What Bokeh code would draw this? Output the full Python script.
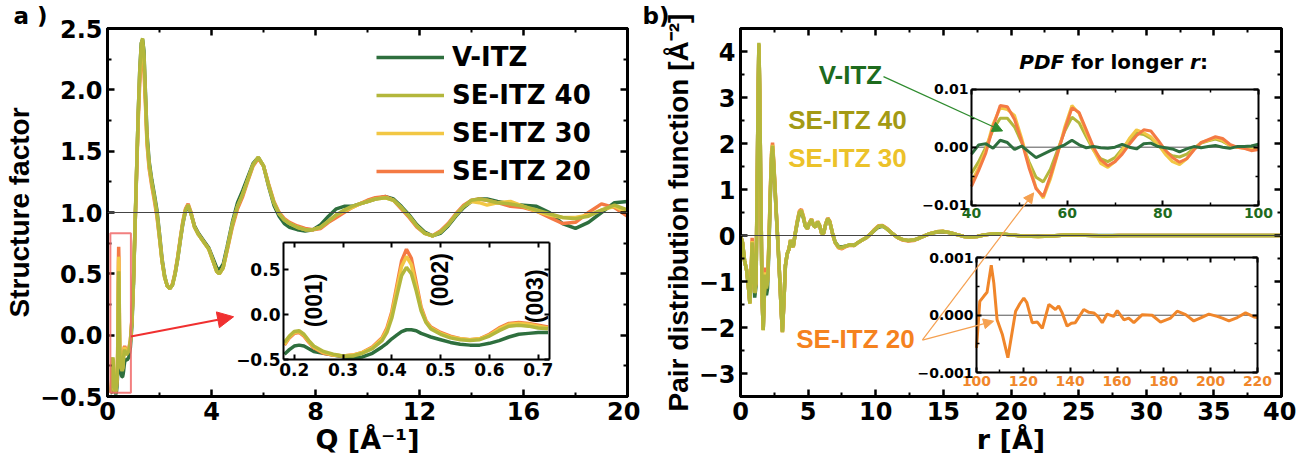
from bokeh.plotting import figure
from bokeh.models import (Range1d, LinearAxis, FixedTicker, Span, Label, Arrow, Title,
                          NormalHead, BoxAnnotation, Legend, LegendItem)
from bokeh.layouts import row
from bokeh.embed import file_html
from bokeh.resources import INLINE

# ====================== DATA ======================
series_names = ["V-ITZ", "SE-ITZ 40", "SE-ITZ 30", "SE-ITZ 20"]
colors = {"V-ITZ": "#2e6f3e", "SE-ITZ 40": "#b3b73c", "SE-ITZ 30": "#f2c744", "SE-ITZ 20": "#f47a44"}

# --- Structure factor S(Q), panel a ---
q_edge = [0.12, 0.15]
s_edge_v = [-0.47, -0.47]
s_edge_40 = [-0.46, -0.40]
s_edge_30 = [-0.46, -0.41]
s_edge_20 = [-0.47, -0.42]

q_low = [0.18, 0.19, 0.20, 0.21, 0.22, 0.23, 0.24, 0.26, 0.28, 0.30, 0.32, 0.34, 0.36, 0.38,
         0.39, 0.40, 0.41, 0.42, 0.43, 0.44, 0.45, 0.46, 0.47, 0.48, 0.50, 0.52, 0.54, 0.56,
         0.58, 0.60, 0.62, 0.64, 0.66, 0.68, 0.70, 0.72]
s_low_v = [-0.44, -0.39, -0.35, -0.34, -0.35, -0.38, -0.41, -0.43, -0.45, -0.47, -0.48, -0.47,
           -0.43, -0.36, -0.32, -0.27, -0.23, -0.19, -0.17, -0.17, -0.18, -0.21, -0.23, -0.25,
           -0.28, -0.31, -0.33, -0.34, -0.34, -0.32, -0.29, -0.25, -0.22, -0.21, -0.20, -0.20]
s_low_40 = [-0.31, -0.24, -0.19, -0.18, -0.22, -0.29, -0.35, -0.41, -0.44, -0.46, -0.46, -0.43,
            -0.38, -0.29, -0.20, -0.04, 0.20, 0.43, 0.52, 0.45, 0.26, 0.04, -0.09, -0.16,
            -0.22, -0.26, -0.28, -0.29, -0.28, -0.24, -0.18, -0.13, -0.12, -0.13, -0.15, -0.16]
s_low_30 = [-0.33, -0.25, -0.20, -0.19, -0.23, -0.30, -0.36, -0.42, -0.45, -0.46, -0.45, -0.42,
            -0.37, -0.27, -0.17, 0.00, 0.27, 0.53, 0.64, 0.55, 0.31, 0.06, -0.08, -0.15,
            -0.21, -0.25, -0.27, -0.28, -0.27, -0.23, -0.16, -0.11, -0.10, -0.11, -0.13, -0.15]
s_low_20 = [-0.34, -0.26, -0.21, -0.20, -0.24, -0.31, -0.37, -0.43, -0.45, -0.46, -0.45, -0.42,
            -0.36, -0.26, -0.15, 0.03, 0.31, 0.59, 0.72, 0.62, 0.35, 0.08, -0.07, -0.14,
            -0.20, -0.24, -0.27, -0.28, -0.27, -0.22, -0.15, -0.10, -0.09, -0.10, -0.12, -0.14]

q_high = [0.76, 0.82, 0.88, 0.94, 1.00, 1.06, 1.12, 1.18, 1.24, 1.30, 1.35, 1.40, 1.46, 1.52,
          1.60, 1.70, 1.80, 1.90, 2.0, 2.1, 2.2, 2.3, 2.4, 2.5, 2.6, 2.7, 2.8, 2.9, 3.0, 3.1,
          3.2, 3.35, 3.5, 3.7, 3.9, 4.05, 4.2, 4.3, 4.45, 4.6, 4.8, 5.0, 5.2, 5.4, 5.6, 5.8,
          6.0, 6.2, 6.4, 6.6, 6.8, 7.0, 7.3, 7.6, 7.9, 8.2, 8.5, 8.8, 9.1, 9.4, 9.7, 10.0,
          10.3, 10.7, 11.0, 11.3, 11.6, 11.9, 12.2, 12.5, 12.8, 13.1, 13.4, 13.7, 14.0, 14.3,
          14.6, 15.0, 15.5, 16.0, 16.5, 17.0, 17.5, 18.0, 18.5, 19.0, 19.5, 20.0]
s_high_40 = [-0.15, -0.13, -0.05, 0.12, 0.45, 0.90, 1.35, 1.80, 2.15, 2.38, 2.42, 2.30, 1.95, 1.60,
             1.40, 1.25, 1.13, 1.00, 0.80, 0.60, 0.47, 0.40, 0.38, 0.41, 0.50, 0.63, 0.78, 0.92,
             1.02, 1.06, 1.00, 0.88, 0.82, 0.76, 0.70, 0.61, 0.52, 0.50, 0.55, 0.70, 0.90, 1.05,
             1.15, 1.27, 1.39, 1.45, 1.38, 1.22, 1.08, 0.99, 0.94, 0.91, 0.88, 0.86, 0.86, 0.88,
             0.93, 0.98, 1.02, 1.05, 1.07, 1.09, 1.11, 1.12, 1.10, 1.04, 0.97, 0.89, 0.83, 0.81,
             0.84, 0.90, 0.98, 1.05, 1.10, 1.11, 1.10, 1.08, 1.07, 1.05, 1.02, 0.99, 0.96, 0.95,
             0.97, 1.02, 1.06, 1.02]
s_high_v = [-0.20, -0.18, -0.10, 0.08, 0.42, 0.88, 1.34, 1.80, 2.16, 2.38, 2.41, 2.32, 1.98, 1.64,
            1.42, 1.27, 1.15, 1.02, 0.83, 0.62, 0.48, 0.40, 0.38, 0.41, 0.50, 0.62, 0.77, 0.91,
            1.01, 1.05, 1.00, 0.89, 0.83, 0.77, 0.71, 0.63, 0.55, 0.53, 0.58, 0.72, 0.92, 1.08,
            1.18, 1.29, 1.40, 1.45, 1.38, 1.21, 1.06, 0.97, 0.91, 0.88, 0.86, 0.85, 0.86, 0.90,
            0.97, 1.03, 1.05, 1.05, 1.07, 1.09, 1.11, 1.13, 1.11, 1.05, 0.98, 0.90, 0.84, 0.81,
            0.83, 0.89, 0.97, 1.04, 1.09, 1.11, 1.11, 1.09, 1.07, 1.06, 1.05, 1.00, 0.91, 0.87,
            0.92, 1.00, 1.08, 1.09]
s_high_30 = [-0.14, -0.12, -0.05, 0.12, 0.45, 0.90, 1.35, 1.78, 2.12, 2.33, 2.36, 2.25, 1.92, 1.58,
             1.38, 1.24, 1.12, 0.99, 0.80, 0.60, 0.47, 0.40, 0.38, 0.41, 0.50, 0.63, 0.78, 0.92,
             1.02, 1.06, 1.00, 0.88, 0.82, 0.76, 0.70, 0.61, 0.52, 0.50, 0.55, 0.70, 0.90, 1.05,
             1.15, 1.27, 1.39, 1.45, 1.38, 1.22, 1.08, 0.99, 0.94, 0.91, 0.88, 0.86, 0.86, 0.88,
             0.93, 0.98, 1.01, 1.04, 1.07, 1.09, 1.11, 1.12, 1.10, 1.04, 0.97, 0.89, 0.83, 0.81,
             0.84, 0.90, 0.98, 1.05, 1.09, 1.08, 1.06, 1.08, 1.09, 1.05, 1.01, 0.98, 0.96, 0.96,
             0.98, 1.02, 1.05, 1.00]
s_high_20 = [-0.13, -0.11, -0.04, 0.13, 0.45, 0.88, 1.32, 1.74, 2.06, 2.26, 2.28, 2.18, 1.88, 1.56,
             1.36, 1.22, 1.10, 0.97, 0.79, 0.60, 0.47, 0.40, 0.38, 0.42, 0.51, 0.64, 0.79, 0.93,
             1.03, 1.07, 1.01, 0.88, 0.82, 0.76, 0.70, 0.61, 0.52, 0.50, 0.55, 0.69, 0.88, 1.03,
             1.13, 1.26, 1.38, 1.44, 1.38, 1.23, 1.09, 1.00, 0.95, 0.92, 0.89, 0.87, 0.86, 0.87,
             0.92, 0.96, 1.00, 1.04, 1.07, 1.10, 1.12, 1.13, 1.10, 1.03, 0.96, 0.88, 0.83, 0.81,
             0.85, 0.91, 0.99, 1.06, 1.10, 1.11, 1.10, 1.08, 1.05, 1.04, 1.01, 0.96, 0.91, 0.92,
             1.00, 1.07, 1.04, 0.97]

# --- Pair distribution function G(r), panel b ---
r_main = [0.0, 0.15, 0.3, 0.45, 0.58, 0.69, 0.78, 0.86, 0.95, 1.05, 1.15, 1.25, 1.31, 1.36, 1.42,
          1.5, 1.6, 1.68, 1.76, 1.84, 1.92, 2.0, 2.1, 2.2, 2.3, 2.37, 2.45, 2.55, 2.68, 2.8,
          2.92, 3.02, 3.1, 3.2, 3.32, 3.45, 3.58, 3.7, 3.8, 3.9, 4.05, 4.2, 4.35, 4.5, 4.65,
          4.8, 4.95, 5.1, 5.25, 5.4, 5.55, 5.7, 5.85, 6.0, 6.15, 6.3, 6.45, 6.6, 6.8, 7.0,
          7.25, 7.5, 7.8, 8.1, 8.4, 8.7, 9.0, 9.3, 9.6, 9.9, 10.2, 10.5, 10.8, 11.2, 11.6,
          12.0, 12.4, 12.8, 13.2, 13.6, 14.0, 14.5, 15.0, 15.5, 16.0, 16.5, 17.0, 17.5, 18.0,
          18.5, 19.0, 19.5, 20.0, 21.0, 22.0, 23.0, 24.0, 25.0, 26.0, 27.0, 28.0, 30.0, 32.0,
          34.0, 36.0, 38.0, 40.0]
g_40 = [0.0, -0.15, -0.55, -0.75, -1.10, -1.48, -0.90, -0.15, -0.60, -1.25,
        -1.00, 1.60, 3.30, 4.19, 3.20, 1.00, -1.40, -2.06, -1.30, -0.85,
        -1.15, -1.00, -0.20, 0.90, 1.75, 1.95, 1.60, 1.05, 0.30, -0.35,
        -1.05, -1.70, -2.10, -1.50, -0.65, -0.40, -0.30, -0.10, -0.20, -0.25,
        0.05, 0.30, 0.50, 0.54, 0.40, 0.20, 0.15, 0.28, 0.35, 0.22,
        0.18, 0.30, 0.22, 0.05, 0.05, 0.25, 0.37, 0.30, 0.05, -0.15,
        -0.25, -0.26, -0.23, -0.20, -0.22, -0.15, -0.10, -0.05, 0.03, 0.12,
        0.20, 0.21, 0.15, 0.05, -0.04, -0.09, -0.11, -0.10, -0.06, -0.01,
        0.04, 0.08, 0.09, 0.06, 0.02, -0.02, -0.03, -0.02, 0.01, 0.03,
        0.04, 0.03, 0.01, -0.01, -0.02, -0.01, 0.01, 0.01, 0.0, -0.01,
        0.0, 0.0, 0.0, 0.0, 0.0, 0.0, 0.0]
g_v = [0.0, -0.15, -0.55, -0.75, -1.10, -1.46, -0.92, -0.20, -0.65, -1.35,
       -1.10, 1.55, 3.25, 4.15, 3.15, 0.95, -1.40, -2.05, -1.35, -1.10,
       -1.30, -1.15, -0.30, 0.80, 1.68, 1.88, 1.55, 1.00, 0.28, -0.36,
       -1.05, -1.70, -2.08, -1.50, -0.66, -0.40, -0.30, -0.12, -0.20, -0.24,
       0.04, 0.28, 0.47, 0.50, 0.38, 0.20, 0.15, 0.27, 0.34, 0.22,
       0.18, 0.29, 0.21, 0.05, 0.05, 0.24, 0.36, 0.29, 0.05, -0.14,
       -0.24, -0.25, -0.23, -0.20, -0.21, -0.15, -0.10, -0.05, 0.03, 0.11,
       0.18, 0.20, 0.15, 0.05, -0.04, -0.09, -0.11, -0.10, -0.06, -0.01,
       0.04, 0.07, 0.08, 0.06, 0.02, -0.02, -0.03, -0.02, 0.01, 0.03,
       0.03, 0.03, 0.01, -0.01, -0.01, -0.01, 0.01, 0.01, 0.0, 0.0,
       0.0, 0.0, 0.0, 0.0, 0.0, 0.0, 0.0]
g_30 = [0.0, -0.15, -0.55, -0.75, -1.10, -1.48, -0.90, -0.12, -0.60, -1.25,
        -1.00, 1.60, 3.28, 4.17, 3.20, 1.00, -1.40, -2.06, -1.28, -0.80,
        -1.10, -0.98, -0.18, 0.92, 1.78, 1.97, 1.62, 1.06, 0.30, -0.35,
        -1.05, -1.70, -2.10, -1.50, -0.65, -0.40, -0.30, -0.10, -0.20, -0.25,
        0.05, 0.30, 0.51, 0.55, 0.40, 0.20, 0.15, 0.28, 0.35, 0.22,
        0.18, 0.30, 0.22, 0.05, 0.05, 0.25, 0.37, 0.30, 0.05, -0.15,
        -0.26, -0.27, -0.23, -0.20, -0.22, -0.15, -0.10, -0.05, 0.03, 0.12,
        0.20, 0.21, 0.15, 0.05, -0.04, -0.09, -0.11, -0.10, -0.06, -0.01,
        0.04, 0.08, 0.09, 0.06, 0.02, -0.02, -0.03, -0.02, 0.01, 0.03,
        0.04, 0.03, 0.01, -0.01, -0.02, -0.01, 0.01, 0.01, 0.0, -0.01,
        0.0, 0.0, 0.0, 0.0, 0.0, 0.0, 0.0]
g_20 = [0.0, -0.15, -0.55, -0.75, -1.10, -1.47, -0.85, -0.05, -0.55, -1.22,
        -1.00, 1.55, 3.20, 4.10, 3.15, 1.00, -1.38, -2.04, -1.20, -0.70,
        -1.00, -0.95, -0.15, 0.95, 1.82, 2.02, 1.65, 1.08, 0.32, -0.34,
        -1.05, -1.70, -2.10, -1.52, -0.66, -0.40, -0.30, -0.10, -0.20, -0.25,
        0.06, 0.32, 0.53, 0.57, 0.42, 0.21, 0.15, 0.28, 0.36, 0.22,
        0.18, 0.31, 0.22, 0.04, 0.05, 0.26, 0.38, 0.31, 0.04, -0.16,
        -0.27, -0.29, -0.24, -0.21, -0.22, -0.15, -0.10, -0.05, 0.03, 0.13,
        0.21, 0.22, 0.16, 0.05, -0.04, -0.10, -0.12, -0.11, -0.06, -0.01,
        0.04, 0.08, 0.09, 0.06, 0.02, -0.02, -0.03, -0.02, 0.01, 0.03,
        0.04, 0.03, 0.01, -0.01, -0.02, -0.01, 0.01, 0.01, 0.0, -0.01,
        0.0, 0.0, 0.0, 0.0, 0.0, 0.0, 0.0]

# --- PDF for longer r: 40-100 A (all series) ---
r_b1 = [40.0, 41.5, 43.0, 44.5, 46.0, 47.5, 49.0, 50.5, 52.0, 53.5, 55.0, 56.5, 58.0, 59.5,
        61.0, 62.5, 64.0, 65.5, 67.0, 68.5, 70.0, 71.5, 73.0, 74.5, 76.0, 77.5, 79.0, 80.5,
        82.0, 83.5, 85.0, 86.5, 88.0, 89.5, 91.0, 92.5, 94.0, 95.5, 97.0, 98.5, 100.0]
gl_20 = [-0.0068, -0.0040, -0.0010, 0.0035, 0.0072, 0.0070, 0.0048, 0.0010, -0.0035, -0.0072,
         -0.0085, -0.0050, -0.0010, 0.0030, 0.0068, 0.0060, 0.0030, 0.0000, -0.0022, -0.0032,
         -0.0025, -0.0012, 0.0005, 0.0020, 0.0030, 0.0028, 0.0012, -0.0005, -0.0018, -0.0026,
         -0.0020, -0.0005, 0.0008, 0.0013, 0.0018, 0.0015, 0.0005, 0.0000, -0.0002, -0.0006,
         -0.0004]
gl_30 = [-0.0060, -0.0035, -0.0005, 0.0040, 0.0068, 0.0065, 0.0055, 0.0015, -0.0030, -0.0070,
         -0.0088, -0.0055, -0.0012, 0.0035, 0.0072, 0.0058, 0.0025, -0.0005, -0.0028, -0.0035,
         -0.0025, -0.0005, 0.0015, 0.0030, 0.0025, 0.0018, 0.0005, -0.0012, -0.0025, -0.0030,
         -0.0020, -0.0003, 0.0008, 0.0012, 0.0016, 0.0012, 0.0003, 0.0000, -0.0002, -0.0004,
         -0.0003]
gl_40 = [-0.0045, -0.0025, 0.0000, 0.0030, 0.0050, 0.0050, 0.0035, 0.0008, -0.0025, -0.0052,
         -0.0060, -0.0038, -0.0005, 0.0028, 0.0052, 0.0042, 0.0018, -0.0005, -0.0020, -0.0025,
         -0.0018, -0.0003, 0.0012, 0.0024, 0.0022, 0.0015, 0.0004, -0.0008, -0.0015, -0.0017,
         -0.0012, -0.0002, 0.0007, 0.0011, 0.0014, 0.0010, 0.0003, 0.0000, -0.0001, -0.0003,
         -0.0002]
gl_v = [-0.0012, 0.0004, 0.0006, -0.0002, 0.0012, 0.0008, -0.0004, 0.0002, -0.0008, -0.0018,
        -0.0012, -0.0006, -0.0001, 0.0004, 0.0012, 0.0004, -0.0001, 0.0001, -0.0001, -0.0002,
        0.0000, 0.0005, 0.0000, -0.0003, 0.0006, 0.0007, 0.0001, -0.0001, -0.0003, -0.0008,
        -0.0003, 0.0001, -0.0001, 0.0001, 0.0003, 0.0000, -0.0002, 0.0001, 0.0001, 0.0002,
        0.0005]

# --- PDF for longer r: 100-220 A (SE-ITZ 20) ---
r_b2 = [100.0, 101.4, 103.1, 104.5, 106.3, 107.4, 108.8, 111.0, 113.4, 116.7, 118.5, 120.2,
        121.5, 123.8, 126.0, 128.1, 130.9, 133.7, 135.1, 136.5, 138.7, 140.5, 142.2, 145.8,
        148.0, 150.1, 151.8, 153.7, 155.8, 158.6, 160.1, 163.0, 165.0, 167.2, 170.8, 175.0,
        178.6, 182.9, 185.7, 189.3, 192.8, 196.0, 199.2, 202.8, 205.0, 207.8, 211.4, 214.9,
        218.5, 220.0]
g_b2 = [-0.00057, 0.00024, 0.00033, 0.00040, 0.00087, 0.00056, -0.00008, -0.00033, -0.00074,
        0.00007, 0.00020, 0.00030, 0.00022, -0.00013, -0.00012, -0.00023, 0.00019, 0.00010,
        0.00016, 0.00005, -0.00019, -0.00014, -0.00013, 0.00010, 0.00005, 0.00004, -0.00002,
        -0.00013, 0.00002, -0.00002, 0.00008, -0.00008, -0.00005, -0.00013, 0.00001, 0.00000,
        -0.00012, -0.00005, 0.00007, 0.00001, -0.00010, -0.00004, 0.00002, -0.00002, -0.00005,
        -0.00010, -0.00004, 0.00004, -0.00003, -0.00004]

# --- axis limits and ticks ---
a_xlim, a_ylim = [0, 20], [-0.5, 2.5]
a_xticks, a_xlabels, a_xminor = [0, 4, 8, 12, 16, 20], ["0", "4", "8", "12", "16", "20"], [2, 6, 10, 14, 18]
a_yticks = [-0.5, 0.0, 0.5, 1.0, 1.5, 2.0, 2.5]
a_ylabels = ["\u22120.5", "0.0", "0.5", "1.0", "1.5", "2.0", "2.5"]
a_yminor = [-0.25, 0.25, 0.75, 1.25, 1.75, 2.25]
ia_xlim, ia_ylim = [0.178, 0.724], [-0.5, 0.79]
ia_xticks, ia_xlabels = [0.2, 0.3, 0.4, 0.5, 0.6, 0.7], ["0.2", "0.3", "0.4", "0.5", "0.6", "0.7"]
ia_yticks, ia_ylabels = [-0.5, 0.0, 0.5], ["\u22120.5", "0.0", "0.5"]

b_xlim, b_ylim = [0, 40], [-3.5, 4.5]
b_xticks = [0, 5, 10, 15, 20, 25, 30, 35, 40]
b_xlabels = ["0", "5", "10", "15", "20", "25", "30", "35", "40"]
b_xminor = [2.5, 7.5, 12.5, 17.5, 22.5, 27.5, 32.5, 37.5]
b_yticks = [-3, -2, -1, 0, 1, 2, 3, 4]
b_ylabels = ["\u22123", "\u22122", "\u22121", "0", "1", "2", "3", "4"]
b_yminor = [-3.5, -2.5, -1.5, -0.5, 0.5, 1.5, 2.5, 3.5]
b1_xlim, b1_ylim = [40, 100], [-0.01, 0.01]
b1_xticks, b1_xlabels, b1_xminor = [40, 60, 80, 100], ["40", "60", "80", "100"], [50, 70, 90]
b1_yticks, b1_ylabels = [-0.01, 0.0, 0.01], ["\u22120.01", "0.00", "0.01"]
b2_xlim, b2_ylim = [100, 220], [-0.001, 0.001]
b2_xticks = [100, 120, 140, 160, 180, 200, 220]
b2_xlabels = ["100", "120", "140", "160", "180", "200", "220"]
b2_xminor = [110, 130, 150, 170, 190, 210]
b2_yticks, b2_ylabels = [-0.001, 0.0, 0.001], ["\u22120.001", "0.000", "0.001"]

# ====================== STYLE / LAYOUT ======================
FONT = "DejaVu Sans"
VFONT = "Liberation Sans"
H = 462
TOP, BOTTOM = 27, 66
FRAME_H = H - TOP - BOTTOM          # 369
A_W, A_LEFT, A_RIGHT = 640, 104, 13  # frame px 104..627
B_W, B_LEFT, B_RIGHT = 656, 100, 15  # page px 740..1281


def ext_range(f0, f1, b0, b1, v0, v1):
    """range whose frame [f0,f1] (px) puts [v0,v1] on the box [b0,b1] (px)"""
    k = (v1 - v0) / (b1 - b0)
    return Range1d(v0 - (b0 - f0) * k, v1 + (f1 - b1) * k)


def style_main(p, xt, xl, xm, yt, yl, ym, xlabel, ylabel):
    p.xgrid.visible = False
    p.ygrid.visible = False
    p.outline_line_color = "black"
    p.outline_line_width = 3
    for ax, t, l, m in [(p.xaxis[0], xt, xl, xm), (p.yaxis[0], yt, yl, ym)]:
        ax.ticker = FixedTicker(ticks=t, minor_ticks=m)
        ax.major_label_overrides = {float(a): b for a, b in zip(t, l)}
        ax.axis_line_width = 3
        ax.axis_line_color = "black"
        ax.major_tick_line_width = 2.5
        ax.minor_tick_line_width = 2
        ax.major_tick_in, ax.major_tick_out = 7, 0
        ax.minor_tick_in, ax.minor_tick_out = 4, 0
        ax.major_label_text_font = FONT
        ax.major_label_text_font_style = "bold"
        ax.major_label_text_font_size = "24px"
        ax.major_label_text_color = "black"
        ax.major_label_standoff = 5
        ax.axis_label_text_color = "black"
    p.xaxis.axis_label = xlabel
    p.xaxis.axis_label_text_font = FONT
    p.xaxis.axis_label_text_font_size = "27px"
    p.xaxis.axis_label_text_font_style = "bold"
    p.xaxis.axis_label_standoff = 1
    p.yaxis.axis_label = ylabel
    p.yaxis.axis_label_text_font = VFONT
    p.yaxis.axis_label_text_font_size = "28px"
    p.yaxis.axis_label_text_font_style = "bold"
    p.yaxis.axis_label_standoff = 2
    for side, t, m in [("above", xt, xm), ("right", yt, ym)]:
        ax = LinearAxis(ticker=FixedTicker(ticks=t, minor_ticks=m), axis_line_width=3,
                        major_tick_line_width=2.5, minor_tick_line_width=2,
                        major_tick_in=7, major_tick_out=0, minor_tick_in=4, minor_tick_out=0,
                        major_label_overrides={float(a): "" for a in t},
                        major_label_text_font_size="0px", major_label_standoff=0)
        p.add_layout(ax, side)


def panel_tag(p, text, offset):
    p.title = Title(text=text, align="left", offset=offset, standoff=0,
                    vertical_align="bottom", text_font=FONT, text_font_style="bold",
                    text_font_size="23px", text_color="black")


def inset_axes(p, xn, yn, xlim, ylim, xt, xl, xm, yt, yl, ym, fs, xcol, ycol):
    common = dict(x_range_name=xn, y_range_name=yn, axis_line_width=2,
                  major_tick_line_width=2, minor_tick_line_width=1.5,
                  major_tick_in=5, major_tick_out=0, minor_tick_in=3, minor_tick_out=0,
                  major_label_standoff=3)
    specs = [("below", ylim[0], xlim, xt, xl, xm, xcol),
             ("left", xlim[0], ylim, yt, yl, ym, ycol),
             ("above", ylim[1], xlim, xt, None, xm, None),
             ("right", xlim[1], ylim, yt, None, ym, None)]
    for side, loc, lim, t, l, m, col in specs:
        ax = LinearAxis(fixed_location=loc, bounds=(lim[0], lim[1]),
                        ticker=FixedTicker(ticks=t, minor_ticks=m), **common)
        if l is not None:
            ax.major_label_overrides = {float(a): b for a, b in zip(t, l)}
            ax.major_label_text_font = FONT
            ax.major_label_text_font_style = "bold"
            ax.major_label_text_font_size = fs
            ax.major_label_text_color = col
        else:
            ax.major_label_overrides = {float(a): "" for a in t}
            ax.major_label_text_font_size = "0px"
        p.add_layout(ax, side)


# ====================== PANEL A ======================
pa = figure(width=A_W, height=H, min_border_left=A_LEFT, min_border_right=A_RIGHT,
            min_border_top=TOP, min_border_bottom=BOTTOM,
            x_range=Range1d(*a_xlim), y_range=Range1d(*a_ylim),
            output_backend="svg", toolbar_location=None)
style_main(pa, a_xticks, a_xlabels, a_xminor, a_yticks, a_ylabels, a_yminor,
           "Q [\u00c5\u207b\u00b9]", "Structure factor")
panel_tag(pa, "a )", -94)
pa.add_layout(Span(location=1.0, dimension="width", line_color="#444444", line_width=1))

# inset a: page box x 281..549, y 242..359
a_fw = A_W - A_LEFT - A_RIGHT
pa.extra_x_ranges = {"iax": ext_range(0, a_fw, 281 - A_LEFT, 549 - A_LEFT, ia_xlim[0], ia_xlim[1])}
pa.extra_y_ranges = {"iay": ext_range(0, FRAME_H, TOP + FRAME_H - 359, TOP + FRAME_H - 242,
                                      ia_ylim[0], ia_ylim[1])}

main_a = {
    "V-ITZ": (q_edge + q_low + q_high, s_edge_v + s_low_v + s_high_v),
    "SE-ITZ 40": (q_edge + q_low + q_high, s_edge_40 + s_low_40 + s_high_40),
    "SE-ITZ 30": (q_edge + q_low + q_high, s_edge_30 + s_low_30 + s_high_30),
    "SE-ITZ 20": (q_edge + q_low + q_high, s_edge_20 + s_low_20 + s_high_20),
}
low_a = {"V-ITZ": s_low_v, "SE-ITZ 40": s_low_40, "SE-ITZ 30": s_low_30, "SE-ITZ 20": s_low_20}
rend = {}
for name in ["V-ITZ", "SE-ITZ 20", "SE-ITZ 30", "SE-ITZ 40"]:
    x, y = main_a[name]
    rend[name] = pa.line(x, y, line_color=colors[name], line_width=3.5)
for name in ["V-ITZ", "SE-ITZ 20", "SE-ITZ 30", "SE-ITZ 40"]:
    pa.line(q_low, low_a[name], line_color=colors[name], line_width=3.5,
            x_range_name="iax", y_range_name="iay")

inset_axes(pa, "iax", "iay", ia_xlim, ia_ylim, ia_xticks, ia_xlabels, [],
           ia_yticks, ia_ylabels, [], "17px", "black", "black")

for txt, qx, sy in [("(001)", 0.241, 0.155), ("(002)", 0.498, 0.38), ("(003)", 0.694, 0.20)]:
    pa.add_layout(Label(x=qx, y=sy, text=txt, angle=1.5708, x_range_name="iax", y_range_name="iay",
                        text_font=VFONT, text_font_style="bold", text_font_size="23px",
                        text_align="center", text_baseline="middle", text_color="black"))

pa.add_layout(BoxAnnotation(left=0.11, right=0.9, bottom=-0.47, top=0.83, fill_alpha=0,
                            line_color="#f06868", line_width=2, line_alpha=0.85))
pa.add_layout(Arrow(end=NormalHead(size=16, fill_color="#f03030", line_color="#f03030"),
                    x_start=0.9, y_start=-0.01, x_end=4.85, y_end=0.15,
                    line_color="#f03030", line_width=2))

legend = Legend(items=[LegendItem(label=n, renderers=[rend[n]]) for n in series_names],
                location=(269, 206), glyph_width=68, glyph_height=38, label_height=38,
                label_standoff=8, spacing=0, padding=0, margin=0,
                border_line_color=None, background_fill_alpha=0,
                label_text_font=FONT, label_text_font_style="bold", label_text_font_size="26px",
                label_text_color="black")
pa.add_layout(legend)

# ====================== PANEL B ======================
pb = figure(width=B_W, height=H, min_border_left=B_LEFT, min_border_right=B_RIGHT,
            min_border_top=TOP, min_border_bottom=BOTTOM,
            x_range=Range1d(*b_xlim), y_range=Range1d(*b_ylim),
            output_backend="svg", toolbar_location=None)
style_main(pb, b_xticks, b_xlabels, b_xminor, b_yticks, b_ylabels, b_yminor,
           "r [\u00c5]", "Pair distribution function [\u00c5\u207b\u00b2]")
panel_tag(pb, "b)", -98)
pb.add_layout(Span(location=0.0, dimension="width", line_color="#444444", line_width=1))

main_b = {"V-ITZ": g_v, "SE-ITZ 40": g_40, "SE-ITZ 30": g_30, "SE-ITZ 20": g_20}
for name in ["V-ITZ", "SE-ITZ 20", "SE-ITZ 30", "SE-ITZ 40"]:
    pb.line(r_main, main_b[name], line_color=colors[name], line_width=3.5)

b_fw = B_W - B_LEFT - B_RIGHT
PB0 = 640 + B_LEFT   # page x of panel b frame
pb.extra_x_ranges = {
    "b1x": ext_range(0, b_fw, 971 - PB0, 1258 - PB0, b1_xlim[0], b1_xlim[1]),
    "b2x": ext_range(0, b_fw, 976 - PB0, 1257 - PB0, b2_xlim[0], b2_xlim[1]),
}
pb.extra_y_ranges = {
    "b1y": ext_range(0, FRAME_H, TOP + FRAME_H - 204, TOP + FRAME_H - 88, b1_ylim[0], b1_ylim[1]),
    "b2y": ext_range(0, FRAME_H, TOP + FRAME_H - 372, TOP + FRAME_H - 257, b2_ylim[0], b2_ylim[1]),
}

pb.line(b1_xlim, [0, 0], line_color="#555555", line_width=1, x_range_name="b1x", y_range_name="b1y")
pb.line(b2_xlim, [0, 0], line_color="#555555", line_width=1, x_range_name="b2x", y_range_name="b2y")
long_b = {"V-ITZ": gl_v, "SE-ITZ 40": gl_40, "SE-ITZ 30": gl_30, "SE-ITZ 20": gl_20}
for name in ["SE-ITZ 40", "SE-ITZ 30", "SE-ITZ 20", "V-ITZ"]:
    pb.line(r_b1, long_b[name], line_color=colors[name], line_width=3,
            x_range_name="b1x", y_range_name="b1y")
pb.line(r_b2, g_b2, line_color="#f0862a", line_width=3, x_range_name="b2x", y_range_name="b2y")

inset_axes(pb, "b1x", "b1y", b1_xlim, b1_ylim, b1_xticks, b1_xlabels, b1_xminor,
           b1_yticks, b1_ylabels, [-0.005, 0.005], "14px", "#1e6b1e", "black")
inset_axes(pb, "b2x", "b2y", b2_xlim, b2_ylim, b2_xticks, b2_xlabels, b2_xminor,
           b2_yticks, b2_ylabels, [-0.0005, 0.0005], "14px", "#f0862a", "black")

# series labels
for txt, x, y, col in [("V-ITZ", 8.13, 3.50, "#1d6b1d"), ("SE-ITZ 40", 7.91, 2.505, "#a39a14"),
                       ("SE-ITZ 30", 7.91, 1.68, "#ecc22a"), ("SE-ITZ 20", 8.5, -2.26, "#f5821f")]:
    pb.add_layout(Label(x=x, y=y, text=txt, text_font=VFONT, text_font_style="bold",
                        text_font_size="26px", text_color=col, text_align="center",
                        text_baseline="middle"))

# arrows
pb.add_layout(Arrow(end=NormalHead(size=10, fill_color="#2e8b2e", line_color="#2e8b2e"),
                    x_start=21.6, y_start=0.0122, x_end=46.5, y_end=0.0028,
                    line_color="#2e8b2e", line_width=1.2, x_range_name="b1x", y_range_name="b1y"))
pb.add_layout(Arrow(end=NormalHead(size=10, fill_color="#f5a050", line_color="#f5a050"),
                    x_start=29.75, y_start=-0.0333, x_end=53.0, y_end=-0.0079,
                    line_color="#f5a050", line_width=1.2, x_range_name="b1x", y_range_name="b1y"))
pb.add_layout(Arrow(end=NormalHead(size=10, fill_color="#f5a050", line_color="#f5a050"),
                    x_start=76.9, y_start=-0.000435, x_end=107.3, y_end=-0.000104,
                    line_color="#f5a050", line_width=1.2, x_range_name="b2x", y_range_name="b2y"))

# inset title "PDF for longer r:"
title_parts = [("PDF", "bold italic", 0), ("for longer", "bold", 51.9),
               ("r", "bold italic", 170.7), (":", "bold", 180.6)]
for txt, style, off in title_parts:
    pb.add_layout(Label(x=50.0, y=0.0148, x_offset=off, text=txt, text_font=FONT,
                        text_font_style=style, text_font_size="20px", text_align="left",
                        text_baseline="middle", text_color="black",
                        x_range_name="b1x", y_range_name="b1y"))

layout = row(pa, pb)
open("out.html", "w").write(file_html(layout, INLINE))
